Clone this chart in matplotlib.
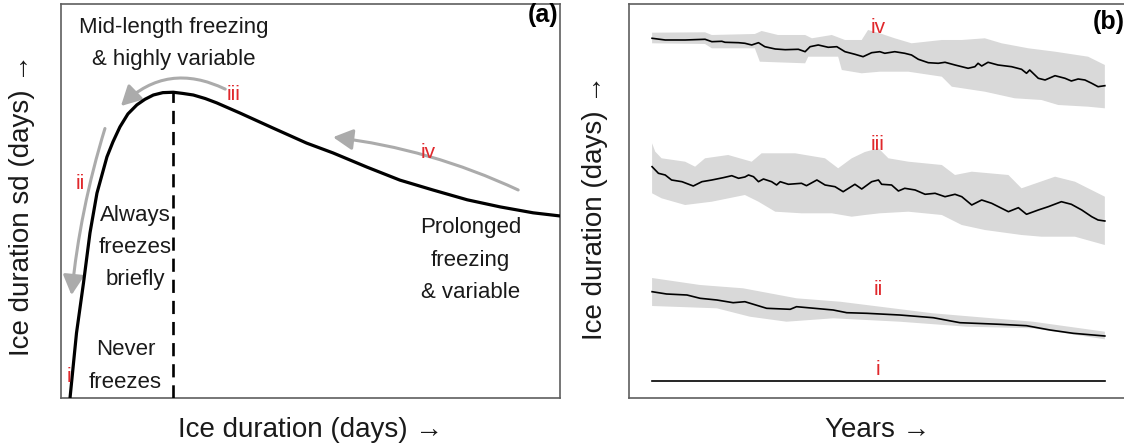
import numpy as np
import matplotlib
matplotlib.use("Agg")
import matplotlib.pyplot as plt
from matplotlib.patches import FancyArrowPatch

plt.rcParams['font.family'] = ['Liberation Sans', 'DejaVu Sans']

RED = '#e0282c'
GREY_ARROW = '#ababab'
BAND = '#d9d9d9'
FRAME = '#5f5f5f'

# ---- panel (a): conceptual curve, sd vs mean ice duration (arbitrary units 0-100)
curve_x = [1.8, 3.1, 4.5, 5.8, 7.2, 9.2, 10.4, 11.8, 13.4, 15.2, 16.8, 18.5, 20.4, 22.5,
           24.4, 26.5, 28.9, 31.2, 35.9, 42.5, 49.2, 54.5, 61.3, 67.9, 74.5, 81.4, 88.0,
           94.6, 100.0]
curve_y = [0.0, 16.5, 29.2, 41.9, 52.0, 61.2, 65.0, 68.8, 72.1, 74.4, 75.8, 76.9, 77.5,
           77.6, 77.3, 76.9, 76.0, 74.9, 72.3, 68.5, 64.7, 62.2, 58.6, 55.3, 52.8, 50.3,
           48.5, 47.0, 46.2]
peak_x, peak_y = 22.5, 77.6

# ---- panel (b): ice duration time series (years 0-100, arbitrary days)
iv_x = [0.0, 2.9, 7.3, 11.7, 13.2, 15.4, 16.1, 19.1, 20.5, 22.0, 23.5, 24.9, 27.2, 29.4,
        32.3, 33.8, 34.9, 36.7, 38.9, 40.8, 42.6, 44.8, 46.6, 48.5, 50.3, 51.4, 53.6,
        55.8, 57.3, 58.8, 61.0, 63.2, 64.7, 66.9, 69.8, 71.3, 72.0, 72.8, 74.2, 76.4,
        79.4, 81.6, 82.7, 83.4, 85.3, 86.8, 89.0, 91.2, 92.6, 94.1, 95.6, 97.1, 98.5,
        100.0]
iv_y = [361.7, 360.0, 360.0, 360.7, 358.3, 358.7, 357.7, 357.3, 356.7, 355.0, 357.3,
        353.3, 351.0, 350.3, 350.7, 348.3, 353.3, 355.0, 352.7, 353.3, 348.3, 345.7,
        343.3, 347.3, 348.3, 346.7, 348.3, 346.7, 345.0, 340.7, 337.3, 336.7, 337.7,
        335.0, 331.7, 333.3, 336.7, 334.0, 337.7, 335.0, 333.3, 330.7, 326.7, 330.0,
        321.7, 320.0, 324.3, 321.7, 319.0, 321.0, 320.0, 316.7, 313.3, 314.3]
iv_up_x = [0, 11.7, 13.2, 22.7, 24.2, 27.8, 33.8, 35.3, 39.7, 42.6, 46.3, 47.7, 50.3,
           53.6, 57.3, 64.0, 68.4, 73.5, 77.2, 83.1, 89.0, 96.3, 100]
iv_up_y = [367.3, 367.7, 365, 366, 369, 365, 365, 361.7, 365, 360, 360, 370, 366.7,
           361.7, 356.7, 360, 360, 361.7, 356.7, 351.7, 348.3, 343.3, 335]
iv_lo_x = [0, 11.7, 13.2, 22.7, 23.8, 33.8, 34.5, 41.1, 41.9, 46.3, 50.3, 56.6, 64.0,
           66.2, 73.5, 80.1, 86.0, 89.7, 96.3, 100]
iv_lo_y = [356.7, 356, 351.7, 351.7, 338.3, 336.7, 343.3, 343.3, 330, 326.7, 328.3,
           328.3, 323.3, 313.3, 308.3, 301.7, 300, 295, 293.3, 291.7]

iii_x = [0, 1.4, 2.9, 4.3, 6.6, 9.1, 11.0, 13.2, 15.7, 17.6, 19.1, 20.5, 21.3, 22.4,
         23.5, 24.6, 26.4, 27.5, 28.3, 30.1, 33.0, 34.1, 36.4, 38.2, 40.4, 42.2, 44.8,
         46.3, 48.5, 50.0, 50.7, 52.9, 54.4, 55.8, 58.1, 60.3, 62.5, 64.7, 66.9, 68.4,
         70.6, 72.8, 75.0, 77.2, 78.7, 80.9, 82.7, 85.3, 87.5, 90.4, 92.6, 94.9, 97.1,
         98.5, 100]
iii_y = [233.3, 226.7, 225, 220, 218.3, 214, 218.3, 220, 222.3, 224.3, 221.7, 223, 225,
         223.3, 218.3, 221, 218.3, 215, 218.3, 215.7, 216.7, 214.3, 220, 215, 213.3,
         208.3, 215.7, 211, 218.3, 220, 215.7, 215, 209, 211.7, 210, 205.7, 206.7, 203.3,
         205.7, 203.3, 195, 200, 196.7, 191.7, 188.3, 192.3, 185.7, 190, 193.3, 198.3,
         195.7, 190, 183.3, 180, 179]
iii_up_x = [0, 0.7, 2.1, 7.3, 9.5, 11.7, 16.8, 22.0, 24.2, 31.6, 38.2, 41.1, 44.1,
            47.0, 50.0, 52.2, 56.6, 64.0, 66.9, 70.6, 78.7, 81.6, 89.0, 93.4, 100]
iii_up_y = [256.7, 248.3, 241.7, 238.3, 233.3, 241.7, 245, 238.3, 246.7, 246.7, 241.7,
            231.7, 241.7, 248, 251.7, 241.7, 238.3, 235, 225, 228.3, 225, 211.7, 223.3,
            218.3, 203.3]
iii_lo_x = [0, 2.1, 7.3, 13.2, 20.5, 23.5, 27.2, 33.0, 39.7, 44.1, 47.0, 50.3, 56.6,
            64.0, 68.4, 73.5, 81.6, 86.0, 93.4, 100]
iii_lo_y = [206.7, 201.7, 195, 198.3, 205, 198.3, 188.3, 186.7, 186.7, 183.3, 185,
            186.7, 188.3, 185, 175, 170, 165, 163.3, 163.3, 155]

ii_x = [0, 3.2, 7.7, 10.6, 14.3, 17.9, 20.5, 25.3, 30.5, 31.9, 40.0, 43.0, 47.4, 54.7,
        62.1, 68.0, 76.8, 82.7, 87.9, 93.0, 100]
ii_y = [108.3, 106, 105, 101.7, 100, 97.3, 98.3, 91.7, 90.7, 93.3, 90, 87.3, 86.7, 85,
        82.3, 77.3, 75.7, 74.3, 70, 66.7, 64]
ii_up_x = [0, 10.6, 20.1, 31.9, 41.5, 62.0, 84.1, 100]
ii_up_y = [122, 115, 111.7, 101.7, 98.3, 86.7, 78.3, 68.3]
ii_lo_x = [0, 14.3, 21.6, 29.7, 40.0, 54.7, 69.5, 84.1, 100]
ii_lo_y = [94, 91.7, 83.3, 78.3, 81.7, 78.3, 73.3, 71.7, 60.7]

i_x = [0, 100]
i_y = [19, 19]

fig = plt.figure(figsize=(11.24, 4.48), dpi=100)
ax1 = fig.add_axes([0.0543, 0.1116, 0.4440, 0.8795])
ax2 = fig.add_axes([0.5596, 0.1116, 0.4431, 0.8795])

for ax in (ax1, ax2):
    ax.set_xticks([])
    ax.set_yticks([])
    for s in ax.spines.values():
        s.set_color(FRAME)
        s.set_linewidth(1.2)

# panel (a)
ax1.set_xlim(0, 100)
ax1.set_ylim(0, 100)
ax1.plot(curve_x, curve_y, color='black', lw=2.3, solid_capstyle='butt', zorder=3)
ax1.plot([peak_x, peak_x], [0, peak_y], color='black', lw=1.9, dashes=(5, 3), zorder=3)

def grey_arrow(ax, tail, tip, rad):
    a = FancyArrowPatch(tail, tip, connectionstyle=f"arc3,rad={rad}",
                        arrowstyle='-|>,head_length=0.85,head_width=0.45',
                        mutation_scale=14, color=GREY_ARROW, lw=2.2,
                        shrinkA=0, shrinkB=0, zorder=2)
    ax.add_patch(a)

grey_arrow(ax1, (32.9, 78.4), (12.0, 74.1), 0.35)
grey_arrow(ax1, (8.8, 68.4), (2.1, 26.1), 0.05)
grey_arrow(ax1, (91.6, 52.8), (54.5, 66.2), 0.08)

ax1.text(1.5, 5.4, 'i', color=RED, fontsize=15, ha='center', va='center')
ax1.text(3.8, 54.5, 'ii', color=RED, fontsize=15, ha='center', va='center')
ax1.text(34.5, 77.1, 'iii', color=RED, fontsize=15, ha='center', va='center')
ax1.text(73.5, 62.2, 'iv', color=RED, fontsize=15, ha='center', va='center')

txt = dict(fontsize=16, color='#1a1a1a', ha='center', va='center', linespacing=1.7)
ax1.text(22.5, 90.0, 'Mid-length freezing\n& highly variable', **txt)
ax1.text(14.8, 38.2, 'Always\nfreezes\nbriefly', **txt)
ax1.text(12.9, 8.1, 'Never\nfreezes', **txt)
ax1.text(82.0, 35.0, 'Prolonged\nfreezing\n& variable', **txt)
ax1.text(99.6, 97.2, '(a)', fontsize=18, fontweight='bold', ha='right', va='center')

# panel (b)
ax2.set_xlim(-5.1, 104.9)
ax2.set_ylim(2, 396)
for mx, my, ux, uy, lx, ly in [(iv_x, iv_y, iv_up_x, iv_up_y, iv_lo_x, iv_lo_y),
                               (iii_x, iii_y, iii_up_x, iii_up_y, iii_lo_x, iii_lo_y),
                               (ii_x, ii_y, ii_up_x, ii_up_y, ii_lo_x, ii_lo_y)]:
    ax2.fill(np.concatenate([ux, lx[::-1]]), np.concatenate([uy, ly[::-1]]),
             color=BAND, lw=0, zorder=1)
    ax2.plot(mx, my, color='black', lw=1.2, zorder=2)
ax2.plot(i_x, i_y, color='black', lw=1.2, zorder=2)

for lab, yv in [('iv', 372), ('iii', 255), ('ii', 110), ('i', 31)]:
    ax2.text(49.9, yv, lab, color=RED, fontsize=15, ha='center', va='center')
ax2.text((1125 - 629) / 498, 0.955, '(b)', transform=ax2.transAxes, fontsize=18,
         fontweight='bold', ha='right', va='center')

# axis labels
lab = dict(fontsize=20, color='#1a1a1a', ha='center', va='center')
fig.text(0.2762, 0.0402, 'Ice duration (days) →', **lab)
fig.text(0.7811, 0.0402, 'Years →', **lab)
fig.text(0.0196, 0.5424, 'Ice duration sd (days) →', rotation=90, **lab)
fig.text(0.5294, 0.5380, 'Ice duration (days) →', rotation=90, **lab)

fig.savefig('out.png', dpi=100)
